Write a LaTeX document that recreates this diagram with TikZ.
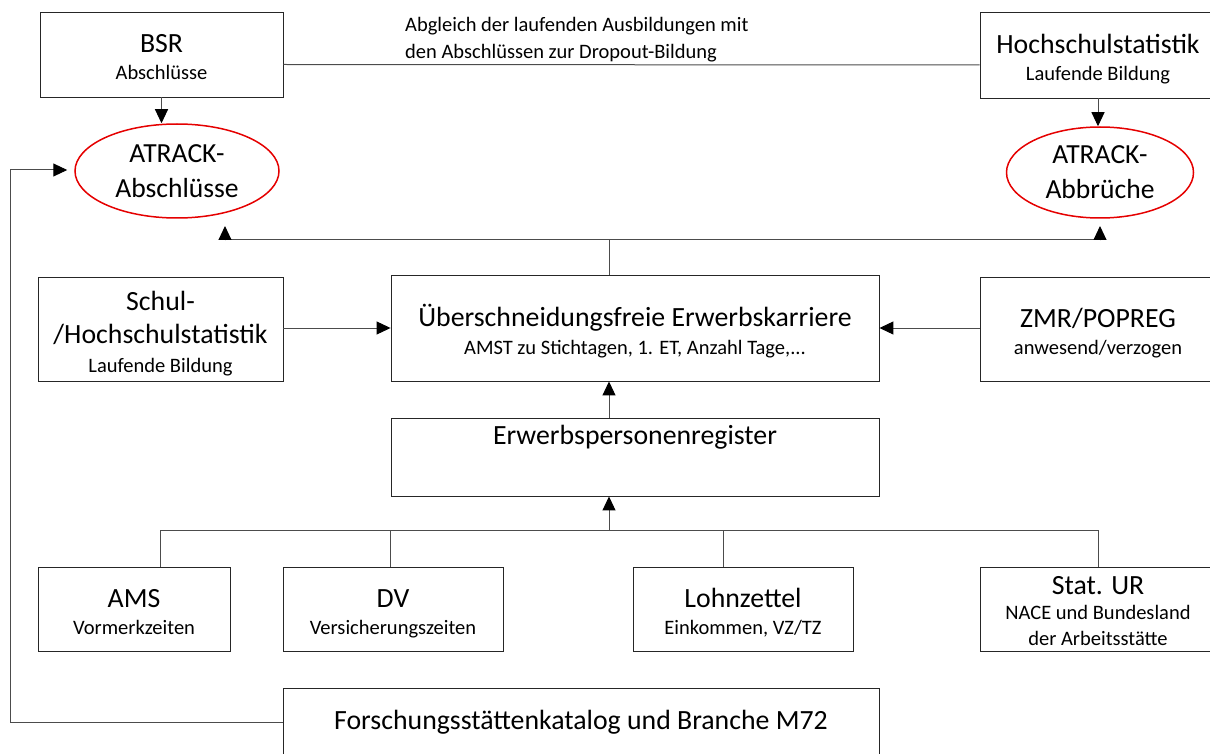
\documentclass[tikz,border=0pt]{standalone}
\usepackage{fontspec}
\setmainfont{Carlito}
\usetikzlibrary{arrows.meta,shapes.geometric}
\newcommand{\bigtxt}[1]{{\fontsize{27.8}{26}\selectfont #1}}
\newcommand{\topst}[1]{\rule{0pt}{#1}}
\newcommand{\botst}[1]{\rule[-#1]{0pt}{0pt}}
\begin{document}
\begin{tikzpicture}[x=1pt,y=-1pt,
  box/.style={draw=black!85,line width=0.9pt,rectangle,align=center,inner sep=0pt,font=\fontsize{20.5}{26}\selectfont},
  oval/.style={draw=red!90!black,line width=1.5pt,ellipse,align=center,inner sep=0pt,font=\fontsize{27.6}{35}\selectfont},
  con/.style={draw=black!70,line width=1pt},
  arr/.style={con,-{Triangle[width=13pt,length=14pt,color=black]}},
]
\useasboundingbox (0,0) rectangle (1210,754);

\node[box,minimum width=243pt,minimum height=85pt] (bsr) at (161.5,54.5) {\topst{32pt}\bigtxt{BSR}\\[1pt]Abschlüsse\botst{8pt}};
\node[box,minimum width=236pt,minimum height=86pt] (hs) at (1098,55) {\topst{32pt}\bigtxt{Hochschulstatistik}\\[1pt]Laufende Bildung\botst{8pt}};
\node[align=left,anchor=west,inner sep=0pt,font=\fontsize{20.5}{27}\selectfont] (abgl) at (405,40) {Abgleich der laufenden Ausbildungen mit\\den Abschlüssen zur Dropout-Bildung};

\node[oval,minimum width=204pt,minimum height=94pt] (e1) at (177,171) {ATRACK-\\Abschlüsse};
\node[oval,minimum width=187pt,minimum height=91pt] (e2) at (1100,172.5) {ATRACK-\\Abbrüche};

\node[box,minimum width=245pt,minimum height=104pt] (schul) at (160.5,329) {\topst{32pt}\bigtxt{Schul-}\\[7pt]\bigtxt{/Hochschulstatistik}\\[3pt]Laufende Bildung\botst{8pt}};
\node[box,minimum width=488pt,minimum height=106pt] (ueb) at (635,328) {\topst{32pt}\bigtxt{Überschneidungsfreie Erwerbskarriere}\\[2pt]AMST zu Stichtagen, 1. ET, Anzahl Tage,...\botst{8pt}};
\node[box,minimum width=236pt,minimum height=104pt] (zmr) at (1098,329) {\topst{32pt}\bigtxt{ZMR/POPREG}\\[1pt]anwesend/verzogen\botst{8pt}};

\node[box,minimum width=488pt,minimum height=78pt,
  label={[anchor=north,yshift=-7pt,inner sep=0pt,font=\fontsize{27.8}{30}\selectfont]north:Erwerbspersonenregister}] (erw) at (635,457) {};

\node[box,minimum width=192pt,minimum height=84pt] (ams) at (134,609) {\topst{32pt}\bigtxt{AMS}\\[1pt]Vormerkzeiten\botst{8pt}};
\node[box,minimum width=220pt,minimum height=84pt] (dv) at (393,609) {\topst{32pt}\bigtxt{DV}\\[1pt]Versicherungszeiten\botst{8pt}};
\node[box,minimum width=220pt,minimum height=84pt] (lz) at (743,609) {\topst{32pt}\bigtxt{Lohnzettel}\\[1pt]Einkommen, VZ/TZ\botst{8pt}};
\node[box,minimum width=236pt,minimum height=84pt] (ur) at (1098,609) {\topst{23pt}\bigtxt{Stat. UR}\\[-1pt]NACE und Bundesland\\der Arbeitsstätte};

\node[box,minimum width=596pt,minimum height=68pt] (fk) at (581,722) {\bigtxt{Forschungsstättenkatalog und Branche M72}};

% top connections
\draw[con] ([yshift=-10pt]bsr.east) -- ([yshift=-10pt]hs.west);
\draw[arr] (bsr.south) -- (bsr.south |- e1.north);
\draw[arr] (hs.south) -- (hs.south |- e2.north);

% from career to ATRACK
\coordinate (j) at (609,240);
\coordinate (t1) at (225,226);
\coordinate (t2) at (1100,226);
\draw[con] (j |- ueb.north) -- (j);
\draw[arr] (j) -| (t1);
\draw[arr] (j) -| (t2);

\draw[arr] (ueb.west -| schul.east) -- (ueb.west);
\draw[arr] (ueb.east -| zmr.west) -- (ueb.east);
\draw[arr] (j |- erw.north) -- (j |- ueb.south);

% tree
\coordinate (h) at (609,530);
\coordinate (d1) at (160,530);
\coordinate (d2) at (390,530);
\coordinate (d3) at (723,530);
\coordinate (d4) at (1098,530);
\draw[arr] (h) -- (h |- erw.south);
\draw[con] (d1) -- (d4);
\draw[con] (d1) -- (d1 |- ams.north);
\draw[con] (d2) -- (d2 |- dv.north);
\draw[con] (d3) -- (d3 |- lz.north);
\draw[con] (d4) -- (d4 |- ur.north);

% loop
\coordinate (lc) at (10,170);
\draw[arr,shorten >=7pt] (fk.west) -| (lc) -- (lc -| e1.west);
\end{tikzpicture}
\end{document}
